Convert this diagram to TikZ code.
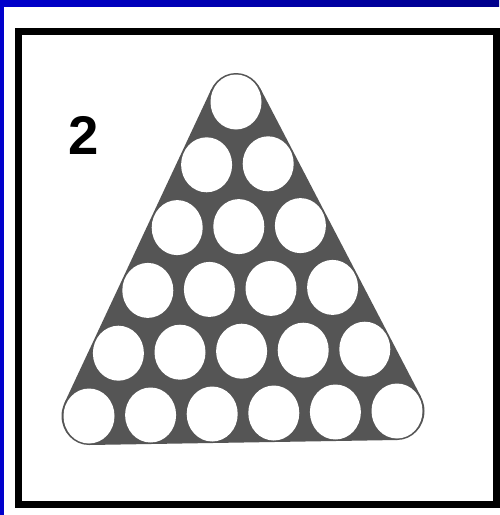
\documentclass[tikz,border=0pt]{standalone}
\usepackage{fontspec}
\setmainfont{Liberation Sans}
\definecolor{blueL}{RGB}{0,0,204}
\definecolor{blueR}{RGB}{0,0,140}
\definecolor{plate}{RGB}{85,85,85}
\tikzset{
  hole/.style={fill=white},
  frameline/.style={draw=black, line width=7pt},
}
\begin{document}
\begin{tikzpicture}[x=1pt,y=-1pt]
\useasboundingbox (0,0) rectangle (499,515);
\fill[white] (0,0) rectangle (499,515);
% blue borders
\shade[left color=blueL, right color=blueR] (0,0) rectangle (499,6);
\fill[blueL] (0,0) rectangle (4,515);
% frame
\draw[frameline] (18.5,31.5) rectangle (496.5,504.5);
% gray triangular plate
\coordinate (A) at (236,102);
\coordinate (B) at (89,416);
\coordinate (C) at (397,411);
\fill[plate] (211.42,89.0) -- (64.42,403.0) -- (89.42,445.0) -- (397.42,440.0) -- (421.01,396.86) -- (260.01,87.86) -- cycle;
\fill[plate] (A) ellipse [x radius=27.5pt, y radius=29pt];
\fill[plate] (B) ellipse [x radius=27.5pt, y radius=29pt];
\fill[plate] (C) ellipse [x radius=27.5pt, y radius=29pt];
% holes
\foreach \i in {0,...,5}{
  \foreach \j in {0,...,\i}{
    \pgfmathsetmacro{\cx}{236-29.4*\i+61.6*\j}
    \pgfmathsetmacro{\cy}{102+62.8*\i-1.0*\j}
    \fill[hole] (\cx,\cy) ellipse [x radius=25.5pt, y radius=27.5pt];
  }
}
% label
\node[anchor=base, inner sep=0pt, font=\fontsize{54.5}{60}\selectfont\bfseries] (lbl) at (83.5,154) {2};
\end{tikzpicture}
\end{document}
